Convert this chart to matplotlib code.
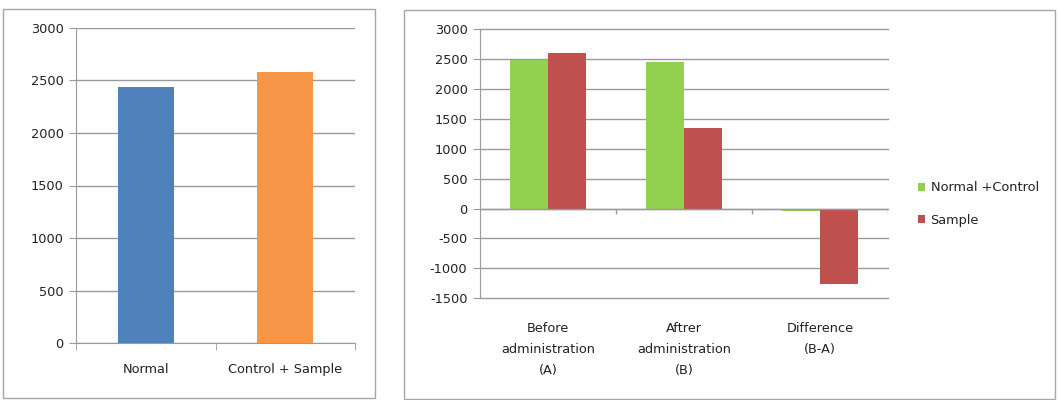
import numpy as np
import matplotlib.pyplot as plt
from matplotlib.patches import Rectangle

# left panel data
groups = ['Normal', 'Control + Sample']
group_vals = [2433, 2582]
group_colors = ['#4F81BD', '#F79646']

# right panel data
phases = ['Before\nadministration\n(A)', 'Aftrer\nadministration\n(B)', 'Difference\n(B-A)']
normal_control = [2490, 2450, -40]
sample = [2607, 1347, -1260]

grid_c = '#9A9A9A'
plt.rcParams['font.family'] = ['DejaVu Sans']
plt.rcParams['font.size'] = 9.3
plt.rcParams['axes.unicode_minus'] = False
plt.rcParams['text.color'] = '#222222'
plt.rcParams['xtick.color'] = '#222222'
plt.rcParams['ytick.color'] = '#222222'

fig = plt.figure(figsize=(10.58, 4), dpi=100)

# panel frames
W, H = 1058, 400
for x0, y0, x1, y1 in [(3, 9, 375, 398), (404, 10, 1055, 399)]:
    fig.patches.append(Rectangle((x0 / W, 1 - y1 / H), (x1 - x0) / W, (y1 - y0) / H,
                                 transform=fig.transFigure, fill=False,
                                 edgecolor='#A6A6A6', linewidth=1))

# ---- left chart ----
ax1 = fig.add_axes([76 / W, 1 - 343.3 / H, 279 / W, 315.6 / H])
x = np.arange(len(groups))
ax1.bar(x, group_vals, width=0.4, color=group_colors, zorder=3)
ax1.set_xlim(-0.5, 1.5)
ax1.set_ylim(0, 3000)
ax1.set_yticks(np.arange(0, 3001, 500))
ax1.set_xticks(x)
ax1.set_xticklabels(groups)
ax1.set_xticks([-0.5, 0.5, 1.5], minor=True)
ax1.tick_params(axis='x', which='major', length=0, pad=14)
ax1.tick_params(axis='x', which='minor', length=5, color=grid_c)
ax1.tick_params(axis='y', length=5, color=grid_c, pad=4)
ax1.yaxis.grid(True, color=grid_c, linewidth=1, zorder=0)
for s in ['top', 'right']:
    ax1.spines[s].set_visible(False)
for s in ['left', 'bottom']:
    ax1.spines[s].set_color(grid_c)

# ---- right chart ----
ax2 = fig.add_axes([480 / W, 1 - 298.3 / H, 408 / W, 269.3 / H])
x2 = np.arange(len(phases))
bw = 0.283
ax2.bar(x2 - bw / 2, normal_control, width=bw, color='#92D050', label='Normal +Control', zorder=3)
ax2.bar(x2 + bw / 2, sample, width=bw, color='#C0504D', label='Sample', zorder=3)
ax2.set_xlim(-0.5, 2.5)
ax2.set_ylim(-1500, 3000)
ax2.set_yticks(np.arange(-1500, 3001, 500))
ax2.set_xticks(x2)
ax2.set_xticklabels(phases, linespacing=1.8)
ax2.tick_params(axis='x', length=0, pad=17)
ax2.tick_params(axis='y', length=5, color=grid_c, pad=4)
ax2.yaxis.grid(True, color=grid_c, linewidth=1, zorder=0)
for gl in ax2.get_ygridlines():
    gl.set_clip_on(False)
ax2.axhline(0, color=grid_c, linewidth=1, zorder=4)
ax2.vlines([0.5, 1.5, 2.5], 0, -85, color=grid_c, linewidth=1, zorder=4)
for s in ['top', 'right', 'bottom']:
    ax2.spines[s].set_visible(False)
ax2.spines['left'].set_color(grid_c)

fig.legend(loc='center left', bbox_to_anchor=(906 / W, 1 - 204 / H), frameon=False,
           handlelength=0.6, handleheight=0.6, handletextpad=0.4, labelspacing=1.5,
           fontsize=9.3)

fig.savefig('out.png', dpi=100)
